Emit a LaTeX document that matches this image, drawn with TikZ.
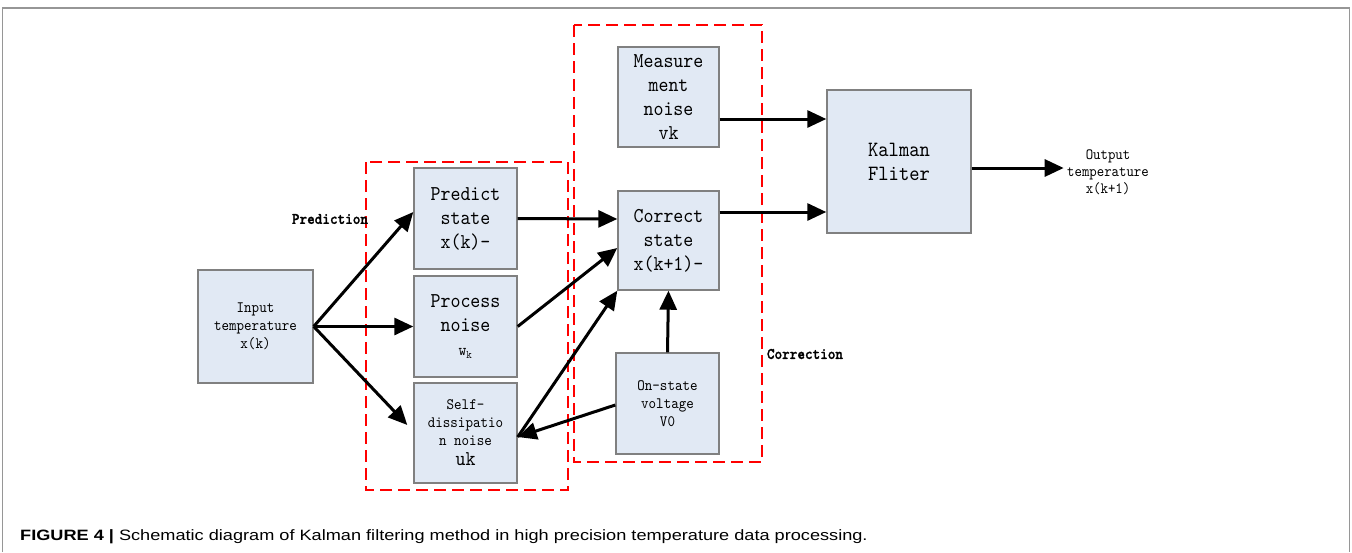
\documentclass[tikz,border=0pt]{standalone}
\usepackage{fontspec}
\setmainfont{Liberation Sans}
\newfontfamily\boxfont{lmmono10-regular.otf}[FakeStretch=0.9,
  BoldFont=lmmonolt10-bold.otf, BoldFeatures={FakeBold=1.2}]
\usetikzlibrary{arrows.meta,calc}

\definecolor{boxfill}{RGB}{225,233,244}
\definecolor{boxline}{RGB}{128,128,128}
\definecolor{framegray}{RGB}{150,150,150}

\tikzset{
  blk/.style={draw=boxline, line width=1.4pt, fill=boxfill, align=center,
    inner sep=0pt, font=\fontsize{21.1}{24}\boxfont},
  smalltxt/.style={font=\fontsize{15.9}{18}\boxfont},
  flow/.style={line width=3pt, -{Triangle[length=19pt,width=17pt]}},
  group/.style={draw=red, line width=2pt, dash pattern=on 12pt off 6pt},
  tag/.style={font=\fontsize{16.1}{18}\boxfont\bfseries},
}

\begin{document}
\begin{tikzpicture}[x=1pt,y=-1pt]
\useasboundingbox (0,0) rectangle (1352,552);

% figure frame
\draw[framegray, line width=1.3pt] (2.5,552) -- (2.5,8) -- (1349.5,8) -- (1349.5,552);

% stage outlines
\draw[group] (366,162) rectangle (568,490);
\draw[group] (574,25) rectangle (762,462);
\node[tag] (predlbl) at (330,219) {Prediction};
\node[tag] (corrlbl) at (805,354) {Correction};

% blocks
\node[blk, smalltxt, minimum width=115pt, minimum height=113pt] (in) at (255.5,326.5)
  {Input\\temperature\\x(k)};
\node[blk, minimum width=103pt, minimum height=101pt] (pred) at (465.5,218.5)
  {Predict\\state\\x(k)-};
\node[blk, minimum width=103pt, minimum height=101pt] (proc) at (465.5,326.5)
  {Process\\noise\\{\fontsize{16.5}{18}\selectfont w\textsubscript{k}}};
\node[blk, smalltxt, minimum width=103pt, minimum height=100pt] (self) at (465.5,433)
  {Self-\\dissipatio\\n noise\\[2pt]{\fontsize{21.1}{20}\selectfont uk}};
\node[blk, minimum width=101pt, minimum height=100pt] (meas) at (668.5,97)
  {Measure\\ment\\noise\\vk};
\node[blk, minimum width=101pt, minimum height=99pt] (corr) at (668.5,240.5)
  {Correct\\state\\x(k+1)-};
\node[blk, smalltxt, minimum width=103pt, minimum height=101pt] (on) at (667.5,403.5)
  {On-state\\voltage\\V0};
\node[blk, font=\fontsize{21.8}{24}\boxfont, minimum width=144pt, minimum height=143pt] (kal) at (899,161.5)
  {Kalman\\Fliter};
\node[align=center, font=\fontsize{15.7}{17}\boxfont] (out) at (1108,172)
  {Output\\temperature\\x(k+1)};

% signal flow
\draw[flow] (in.east) -- ([yshift=6.5pt]pred.west);
\draw[flow] (in.east) -- (proc.west);
\draw[flow] (in.east) -- ([xshift=-6pt,yshift=8pt]self.west);
\draw[flow] (pred.east) -- ([yshift=-0.5pt]pred.east -| corr.west);
\draw[flow] (proc.east) -- ([yshift=-7.5pt]corr.west);
\draw[flow] ([yshift=-4pt]self.east) -- (corr.south west);
\draw[flow] ([yshift=-1.5pt]on.west) -- ([yshift=-4pt]self.east);
\draw[flow] (on.north) -- (corr.south);
\draw[flow] ([yshift=-22pt]meas.east) -- ([yshift=-22pt]meas.east -| kal.west);
\draw[flow] ([yshift=28.5pt]corr.east) -- ([yshift=28.5pt]corr.east -| kal.west);
\draw[flow] ([yshift=-6.5pt]kal.east) -- ([yshift=-6.5pt]kal.east -| out.west);

% caption
\node[anchor=base west, inner sep=0pt, font=\fontsize{15}{17}\selectfont] (cap) at (20,540)
  {\scalebox{1.21}[1]{\textbf{FIGURE 4 |} Schematic diagram of Kalman filtering method in high precision temperature data processing.}};
\end{tikzpicture}
\end{document}
